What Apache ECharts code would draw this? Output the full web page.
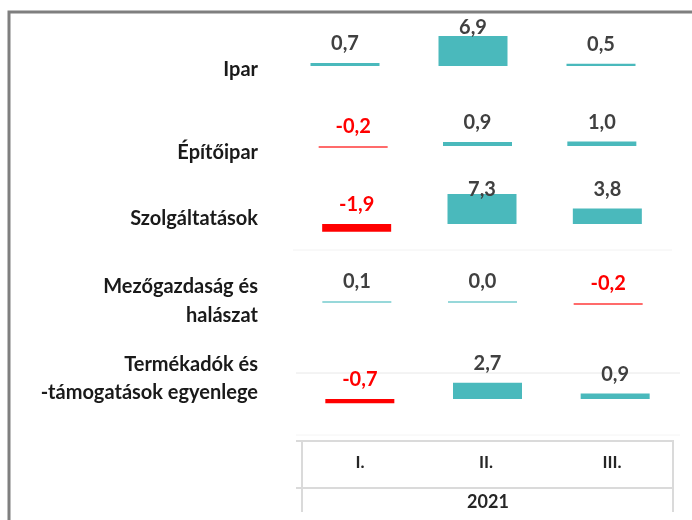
<!DOCTYPE html>
<html>
<head>
<meta charset="utf-8">
<script src="https://cdn.jsdelivr.net/npm/echarts@6.0.0/dist/echarts.min.js"></script>
<style>
	html, body { margin: 0; padding: 0; background: #fff; }
	#plot { width: 692px; height: 520px; }
</style>
</head>
<body>
<div id="plot"></div>
<script>
var quarters = ['I.', 'II.', 'III.'];
var yearLabel = '2021';
var sectors = ['Ipar', 'Építőipar', 'Szolgáltatások', 'Mezőgazdaság és\nhalászat', 'Termékadók és\n-támogatások egyenlege'];
var ipar = [0.7, 6.9, 0.5];
var epitoipar = [-0.2, 0.9, 1.0];
var szolgaltatasok = [-1.9, 7.3, 3.8];
var mezogazdasag = [0.1, 0.0, -0.2];
var termekadok = [-0.7, 2.7, 0.9];

var rowValues = [ipar, epitoipar, szolgaltatasok, mezogazdasag, termekadok];

// layout of each row (baseline y, left, width, px per unit, label clamp, row label y, line height)
var rowLayout = [
	{ base: 66, left: 281, width: 384, scale: 4.35, clamp: 28, textY: 70, lh: 29 },
	{ base: 146, left: 291, width: 373, scale: 4.5, clamp: 0, textY: 153, lh: 29 },
	{ base: 224, left: 294, width: 376, scale: 4.1, clamp: 190, textY: 219, lh: 29 },
	{ base: 303, left: 294, width: 377, scale: 4.3, clamp: 0, textY: 301.5, lh: 29 },
	{ base: 399, left: 296, width: 383, scale: 6.0, clamp: 0, textY: 379, lh: 28 }
];

var TEAL = '#4ab9bc', RED = '#ff0000';
var TEAL_THIN = '#97d8da', RED_THIN = '#ff6b6b';
var yMin = -3, yMax = 9;

function fmt (v) {
	return v.toFixed(1).replace('.', ',');
}

function barColor (p) {
	var thin = Math.abs(p.value) < 0.3;
	if (p.value < 0)
		return thin ? RED_THIN : RED;
	return thin ? TEAL_THIN : TEAL;
}

function initChart () {
	var grids = [], xAxes = [], yAxes = [], series = [], graphics = [];

	for (var i = 0; i < rowValues.length; i++) {
		var r = rowLayout[i];
		grids.push({
			left: r.left,
			width: r.width,
			top: r.base - yMax * r.scale,
			height: (yMax - yMin) * r.scale
		});
		xAxes.push({ type: 'category', gridIndex: i, data: quarters, show: false });
		yAxes.push({ type: 'value', gridIndex: i, min: yMin, max: yMax, show: false });
		series.push({
			name: sectors[i],
			type: 'bar',
			xAxisIndex: i,
			yAxisIndex: i,
			barWidth: 69,
			barMinHeight: 2,
			silent: true,
			data: rowValues[i],
			itemStyle: { color: barColor },
			label: {
				show: true,
				position: 'top',
				distance: 9,
				formatter: function (p) {
					return (p.value < 0 ? '{neg|' : '{pos|') + fmt(p.value) + '}';
				},
				rich: {
					pos: { color: '#404040', fontFamily: 'Lato', fontWeight: 'bold', fontSize: 20 },
					neg: { color: RED, fontFamily: 'Lato', fontWeight: 'bold', fontSize: 20 }
				}
			},
			labelLayout: (function (clamp) {
				return function (params) {
					var c = params.labelRect.y + params.labelRect.height / 2;
					return {
						x: params.rect.x + params.rect.width / 2,
						y: Math.max(c, clamp),
						align: 'center',
						verticalAlign: 'middle'
					};
				};
			})(r.clamp)
		});
		graphics.push({
			type: 'text',
			style: {
				text: sectors[i],
				x: 258,
				y: r.textY,
				align: 'right',
				verticalAlign: 'middle',
				lineHeight: r.lh,
				font: 'bold 20px Lato',
				fill: '#1a1a1a'
			}
		});
	}

	// quarter axis of the bottom table
	grids.push({ left: 297, width: 378, top: 463, height: 1 });
	xAxes.push({
		type: 'category',
		gridIndex: 5,
		position: 'top',
		data: quarters,
		axisLine: { show: false },
		axisTick: { show: false },
		axisLabel: {
			margin: 0,
			verticalAlign: 'middle',
			fontFamily: 'Lato',
			fontWeight: 'bold',
			fontSize: 17,
			color: '#262626'
		}
	});
	yAxes.push({ type: 'value', gridIndex: 5, show: false });

	graphics.push({
		type: 'text',
		style: { text: yearLabel, x: 488, y: 502, align: 'center', verticalAlign: 'middle', font: 'bold 18px Lato', fill: '#262626' }
	});

	// frame and table lines
	var light = { stroke: '#dadada', lineWidth: 2 };
	graphics.push(
		{ type: 'polyline', shape: { points: [[9, 520], [9, 12], [692, 12]] }, style: { stroke: '#7f7f7f', lineWidth: 3, fill: null } },
		{ type: 'line', shape: { x1: 293, y1: 250, x2: 672, y2: 250 }, style: { stroke: '#f2f2f2', lineWidth: 1 } },
		{ type: 'line', shape: { x1: 296, y1: 373, x2: 680, y2: 373 }, style: { stroke: '#e8e8e8', lineWidth: 1 } },
		{ type: 'line', shape: { x1: 296, y1: 435, x2: 680, y2: 435 }, style: { stroke: '#f4f4f4', lineWidth: 1 } },
		{ type: 'line', shape: { x1: 296, y1: 441, x2: 674, y2: 441 }, style: light },
		{ type: 'line', shape: { x1: 296, y1: 488, x2: 674, y2: 488 }, style: light },
		{ type: 'line', shape: { x1: 302, y1: 441, x2: 302, y2: 512 }, style: light },
		{ type: 'line', shape: { x1: 673, y1: 441, x2: 673, y2: 512 }, style: light }
	);

	var option = {
		animation: false,
		backgroundColor: '#fff',
		grid: grids,
		xAxis: xAxes,
		yAxis: yAxes,
		series: series,
		graphic: graphics
	};

	var myChart = echarts.init(document.getElementById('plot'));
	myChart.setOption(option);
}

initChart();
</script>
</body>
</html>
